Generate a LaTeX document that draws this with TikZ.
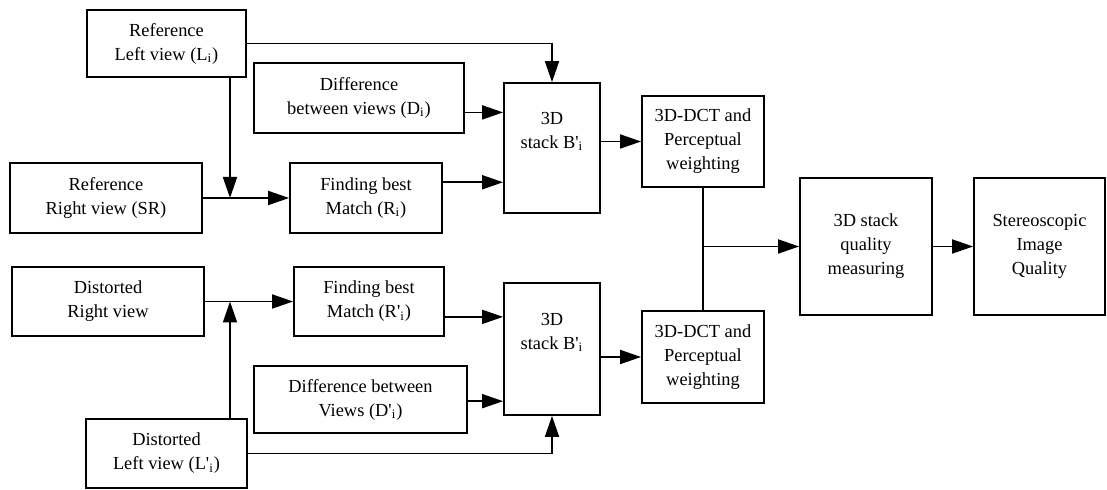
\documentclass[tikz,border=0pt]{standalone}
\usepackage{fontspec}
\setmainfont{Liberation Serif}
\usetikzlibrary{arrows.meta,calc}
\newcommand{\prm}{\textquotesingle}

\begin{document}
\begin{tikzpicture}[x=0.5pt, y=-0.5pt,
        every node/.style={font=\fontsize{9.2}{12}\selectfont},
        box/.style={draw=black, line width=0.9pt, align=center, inner sep=2pt},
        arr/.style={-{Triangle[length=10.5pt,width=7pt]}, line width=0.9pt}]
        \useasboundingbox (0,0) rectangle (1107,490);
        % Reference branch
        \node[box, minimum width=79.5pt, minimum height=33.5pt] (refL) at (166.5,43.5) {Reference\\Left view (L\textsubscript{i})};
        \node[box, minimum width=105pt, minimum height=35pt] (diffD) at (359,98) {Difference\\between views (D\textsubscript{i})};
        \node[box, minimum width=96pt, minimum height=35pt] (refR) at (106,198) {Reference\\Right view (SR)};
        \node[box, minimum width=76pt, minimum height=35pt] (findR) at (366,198) {Finding best\\Match (R\textsubscript{i})};
        \node[box, minimum width=48pt, minimum height=65pt] (stackA) at (552,148) {3D\\stack B\prm\textsubscript{i}\\[6pt]};
        \node[box, minimum width=61pt, minimum height=45.5pt] (dctA) at (703,141.5) {3D-DCT and\\Perceptual\\weighting};
        % Distorted branch
        \node[box, minimum width=96pt, minimum height=34.5pt] (distR) at (108,301.5) {Distorted\\Right view};
        \node[box, minimum width=75pt, minimum height=34.5pt] (findR2) at (369,301.5) {Finding best\\Match (R\prm\textsubscript{i})};
        \node[box, minimum width=106.5pt, minimum height=33.5pt] (diffD2) at (360.5,399.5) {Difference between\\Views (D\prm\textsubscript{i})};
        \node[box, minimum width=80.5pt, minimum height=34.5pt] (distL) at (166.5,453.5) {Distorted\\Left view (L\prm\textsubscript{i})};
        \node[box, minimum width=48pt, minimum height=66pt] (stackB) at (552,349) {3D\\stack B\prm\textsubscript{i}\\[6pt]};
        \node[box, minimum width=61pt, minimum height=46pt] (dctB) at (703,357) {3D-DCT and\\Perceptual\\weighting};
        % Quality stages
        \node[box, minimum width=66pt, minimum height=68.5pt] (measure) at (866,246.5) {3D stack\\quality\\measuring};
        \node[box, minimum width=65.5pt, minimum height=68.5pt] (quality) at (1039.5,246.5) {Stereoscopic\\Image\\Quality};
        % Junctions and inputs of the stacks
        \coordinate (jA) at (230,198);
        \coordinate (jB) at (230,301.5);
        \coordinate (inA1) at ($(stackA.north west)!0.23!(stackA.south west)$);
        \coordinate (inA2) at ($(stackA.north west)!0.76!(stackA.south west)$);
        \coordinate (inB1) at ($(stackB.north west)!0.26!(stackB.south west)$);
        \coordinate (inB2) at ($(stackB.north west)!0.89!(stackB.south west)$);
        \coordinate (jC) at (dctA.south |- measure.west);
        % Upper connectors
        \draw[arr] (refL.east) -| (stackA.north);
        \draw[arr] (refL.south -| jA) -- (jA);
        \draw[arr] (refR.east) -- (findR.west);
        \draw[arr] (diffD.east |- inA1) -- (inA1);
        \draw[arr] (findR.east |- inA2) -- (inA2);
        \draw[arr] (stackA.east |- dctA.west) -- (dctA.west);
        % Lower connectors
        \draw[arr] (distR.east) -- (findR2.west);
        \draw[arr] (distL.north -| jB) -- (jB);
        \draw[arr] (findR2.east |- inB1) -- (inB1);
        \draw[arr] (diffD2.east |- inB2) -- (inB2);
        \draw[arr] (distL.east) -| (stackB.south);
        \draw[arr] (stackB.east |- dctB.west) -- (dctB.west);
        % Merge and output
        \draw[line width=0.9pt] (dctA.south) -- (dctB.north);
        \draw[arr] (jC) -- (measure.west);
        \draw[arr] (measure.east) -- (quality.west);
\end{tikzpicture}
\end{document}
